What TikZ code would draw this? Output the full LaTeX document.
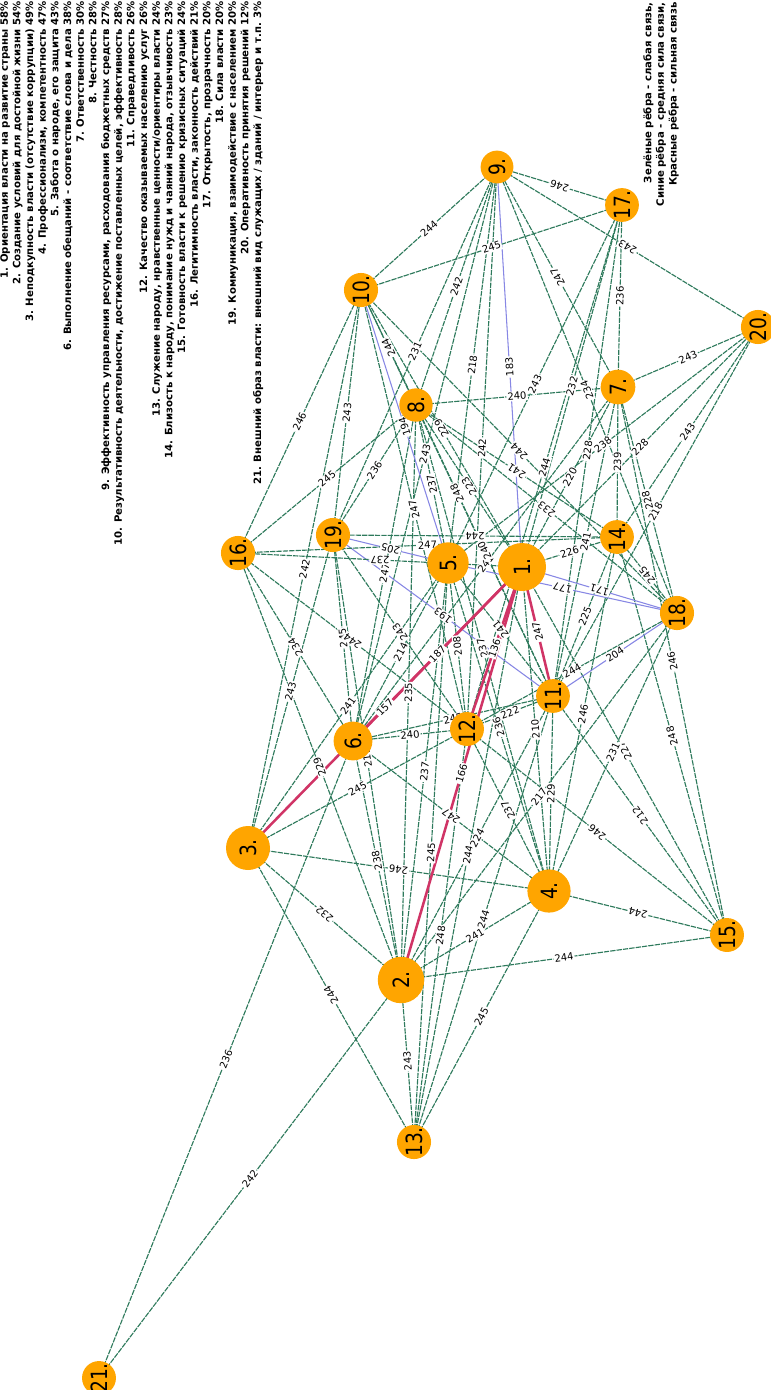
\documentclass[tikz,border=0pt]{standalone}
\usepackage{fontspec}
\usepackage{graphicx}
\setmainfont{DejaVu Sans}
\pgfdeclarelayer{edges}
\pgfdeclarelayer{labels}
\pgfsetlayers{edges,labels,main}
\definecolor{weakgreen}{RGB}{46,122,92}
\definecolor{midblue}{RGB}{135,135,228}
\definecolor{strongred}{RGB}{208,52,102}
\definecolor{nodeorange}{RGB}{255,165,0}

% lower node first, so that every label reads upwards
\newcommand\linklist{21/6/236/g, 21/2/242/g, 13/3/244/g, 13/2/243/g, 13/4/245/g, 13/5/245/g,
  13/12/248/g, 13/11/244/g, 13/1/244/g, 2/15/244/g, 15/4/244/g, 4/3/246/g, 2/3/232/g,
  2/4/241/g, 2/6/238/g, 2/5/237/g, 2/16/229/g, 2/19/219/g, 2/18/217/g, 2/11/224/g,
  2/8/235/g, 3/12/245/g, 3/5/241/g, 3/10/242/g, 3/19/243/g, 15/7/246/g, 15/14/248/g,
  15/11/212/g, 15/12/246/g, 15/1/227/g, 4/5/236/g, 4/1/210/g, 4/14/246/g, 4/18/231/g,
  4/11/229/g, 4/12/237/g, 4/6/247/g, 4/8/237/g, 6/12/240/g, 6/11/245/g, 6/5/214/g,
  6/9/243/g, 6/19/245/g, 6/16/234/g, 6/8/247/g, 6/7/241/g, 12/11/222/g, 12/18/244/g,
  12/17/244/g, 12/9/242/g, 12/10/247/g, 12/5/208/g, 12/19/243/g, 12/16/244/g,
  11/14/225/g, 11/18/204/b, 11/17/228/g, 11/10/248/g, 11/8/240/g, 11/19/193/b,
  11/5/241/g, 11/20/218/g, 11/7/241/g, 18/5/177/b, 18/1/171/b, 18/14/245/g, 18/9/234/g,
  18/8/233/g, 18/10/244/g, 18/7/228/g, 1/9/183/b, 1/17/232/g, 1/7/220/g, 1/10/229/g,
  1/8/223/g, 1/16/237/g, 1/20/228/g, 1/14/226/g, 5/9/218/g, 5/17/243/g, 5/8/237/g,
  5/10/194/b, 5/19/205/b, 5/20/238/g, 16/8/245/g, 16/10/246/g, 16/14/247/g, 14/19/244/g,
  14/8/241/g, 14/20/243/g, 14/7/239/g, 19/8/236/g, 19/10/243/g, 19/9/231/g, 8/9/242/g,
  8/7/240/g, 8/10/244/g, 7/9/247/g, 7/17/236/g, 7/20/243/g, 20/9/243/g, 10/9/244/g,
  10/17/245/g, 17/9/246/g, 3/1/157/r, 6/1/187/r, 12/1/136/r, 2/1/166/r, 11/1/247/r}

\begin{document}
\begin{tikzpicture}[
  x=0.75pt, y=-0.75pt,
  factor/.style={circle,fill=nodeorange,inner sep=0pt,minimum size=#1pt,
    rotate=90,font=\fontsize{14}{14}\selectfont},
  g link/.style={draw=weakgreen,line width=0.85pt,dash pattern=on 4pt off 0.8pt},
  b link/.style={draw=midblue,line width=0.8pt},
  r link/.style={draw=strongred,line width=1.9pt},
  wlabel/.style={midway,sloped,allow upside down,fill=white,inner sep=0.8pt,
    font=\fontsize{7.5}{7.5}\selectfont},
  legendtext/.style={rotate=90,anchor=north east,align=right,inner sep=0pt,
    font=\fontsize{7.6}{9.5}\selectfont\bfseries}
]
\useasboundingbox (0,0) rectangle (771,1390);

% factors: number/x/y/diameter
\foreach \i/\x/\y/\d in {1/522/567/36, 2/401/980/34.8, 3/248/848/33, 4/549/891/32.4,
  5/448/563/31, 6/353/741/29.1, 7/618/387/26, 8/416/405/25, 9/497/167/24.6,
  10/361/290/25, 11/553/696/24.1, 12/467/729/24.1, 13/414/1142/23.1, 14/617/537/22.7,
  15/727/935/23.1, 16/238/553/21.6, 17/622/205/21.1, 18/677/613/21.1, 19/333/535/21.1,
  20/758/327/16.4, 21/99/1378/8.2}
  \node[factor=\d] (n\i) at (\x,\y) {\scalebox{1}[1.2]{\i.}};

\begin{pgfonlayer}{edges}
\foreach \a/\b/\w/\c in \linklist
  \draw[\c\space link] (n\a.center) -- (n\b.center);
\end{pgfonlayer}
\begin{pgfonlayer}{labels}
\foreach \a/\b/\w/\c in \linklist
  \path (n\a.center) -- node[wlabel] {\w} (n\b.center);
\end{pgfonlayer}

\node[legendtext] (factors) at (0,1) {1. Ориентация власти на развитие страны 58\%\\
  2. Создание условий для достойной жизни 54\%\\
  3. Неподкупность власти (отсутствие коррупции) 49\%\\
  4. Профессионализм, компетентность 47\%\\
  5. Забота о народе, его защита 43\%\\
  6. Выполнение обещаний - соответствие слова и дела 38\%\\
  7. Ответственность 30\%\\
  8. Честность 28\%\\
  9. Эффективность управления ресурсами, расходования бюджетных средств 27\%\\
  10. Результативность деятельности, достижение поставленных целей, эффективность 28\%\\
  11. Справедливость 26\%\\
  12. Качество оказываемых населению услуг 26\%\\
  13. Служение народу, нравственные ценности/ориентиры власти 24\%\\
  14. Близость к народу, понимание нужд и чаяний народа, отзывчивость 23\%\\
  15. Готовность власти к решению кризисных ситуаций 24\%\\
  16. Легитимность власти, законность действий 21\%\\
  17. Открытость, прозрачность 20\%\\
  18. Сила власти 20\%\\
  19. Коммуникация, взаимодействие с населением 20\%\\
  20. Оперативность принятия решений 12\%\\
  21. Внешний образ власти: внешний вид служащих / зданий / интерьер и т.п. 3\%};
\node[legendtext] (colours) at (643,2) {Зелёные рёбра - слабая связь,\\
  Синие рёбра - средняя сила связи,\\
  Красные рёбра - сильная связь};
\end{tikzpicture}
\end{document}
